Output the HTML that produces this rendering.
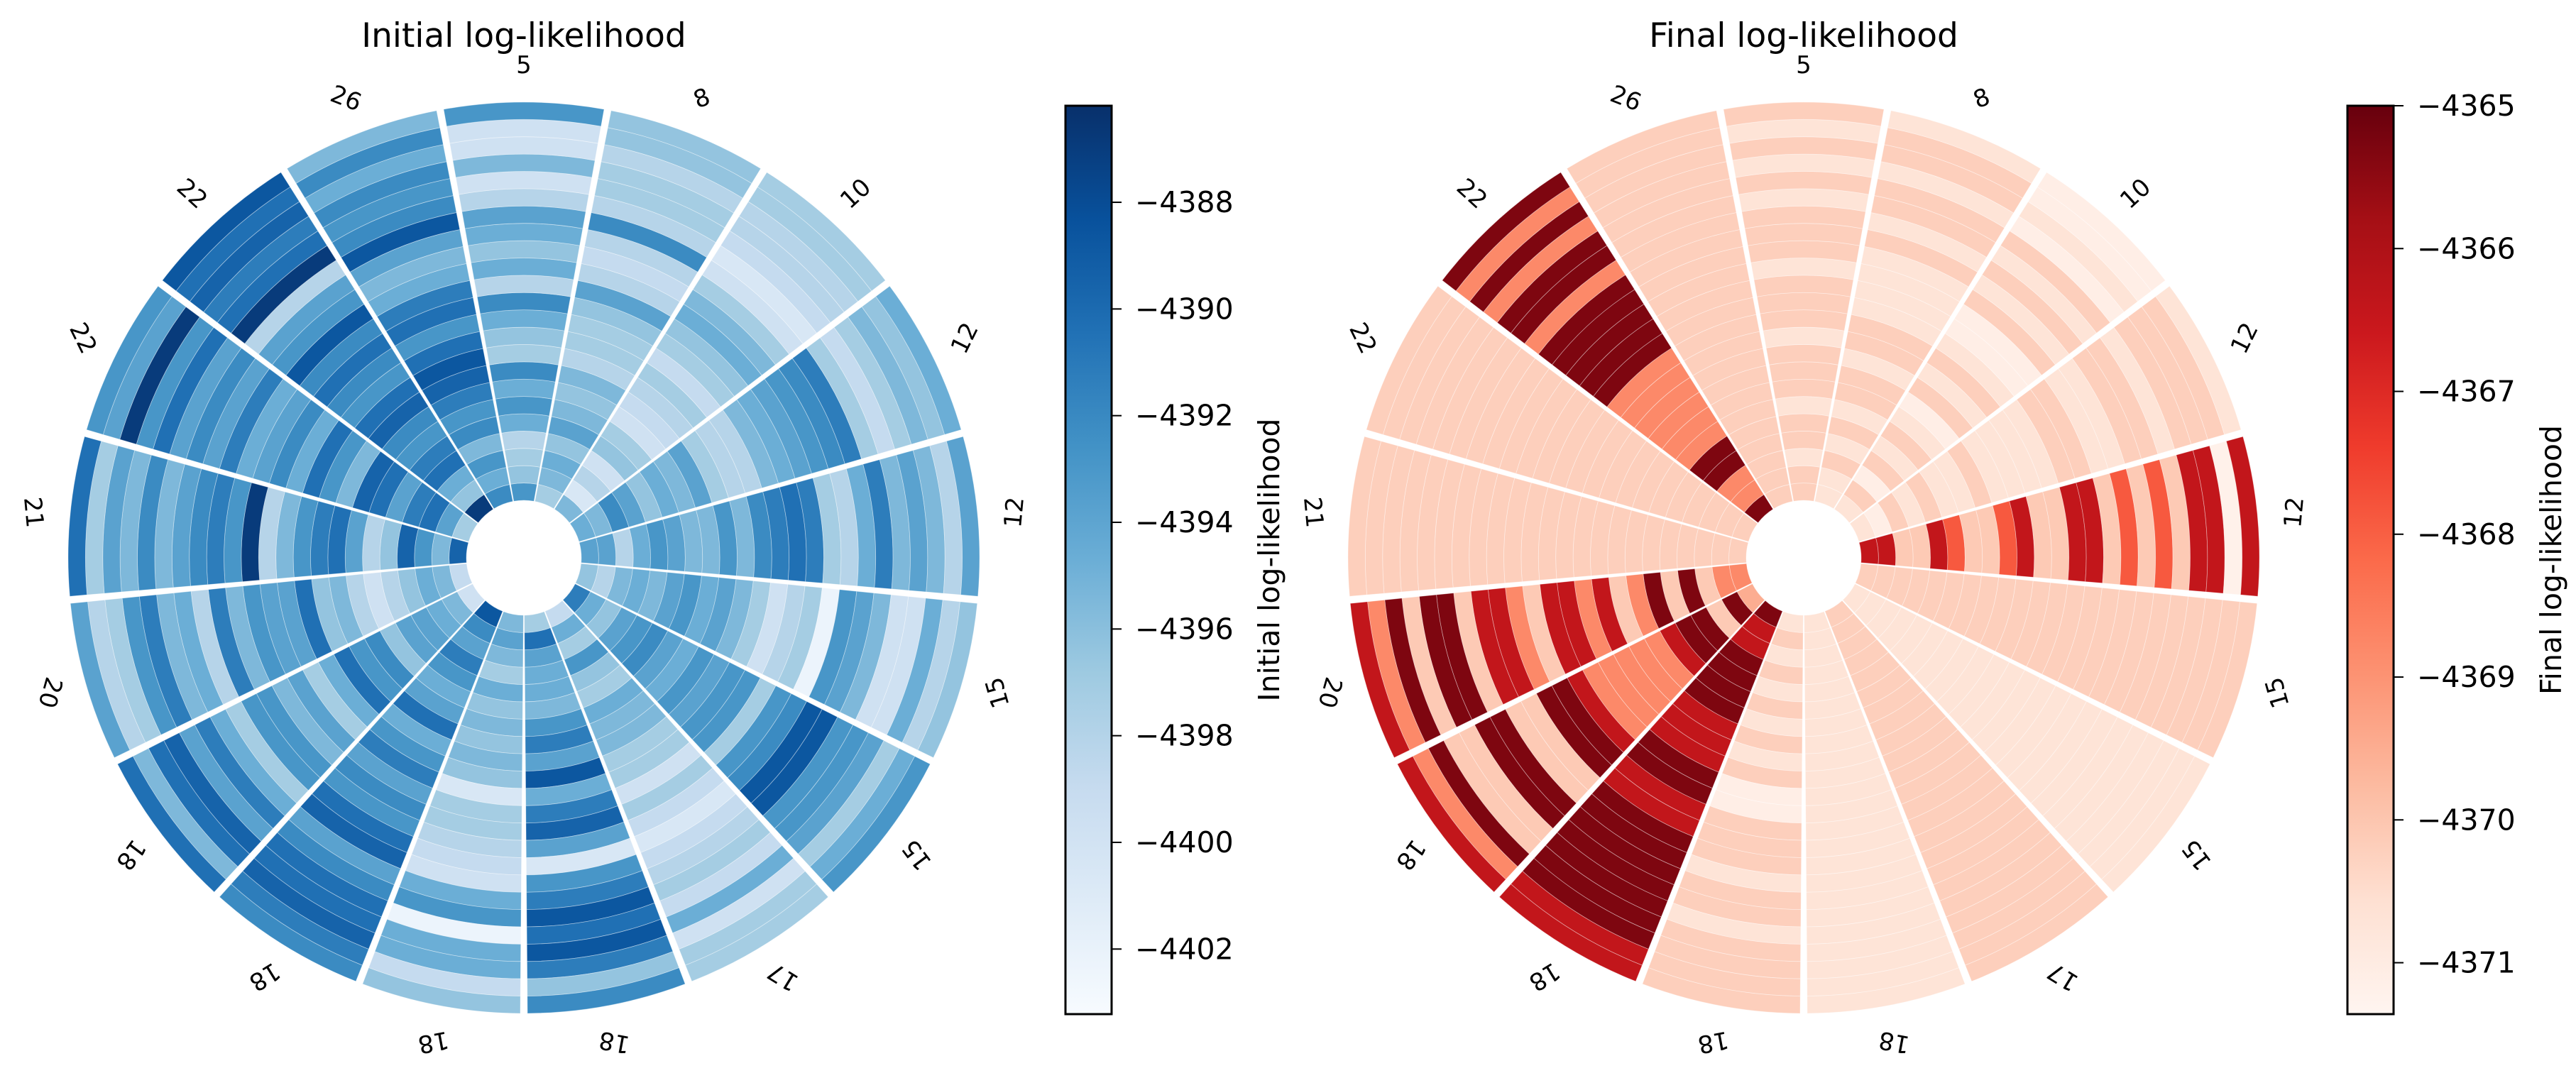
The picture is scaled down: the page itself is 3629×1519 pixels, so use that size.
<!DOCTYPE html>
<html><head><meta charset="utf-8"><style>
html,body{margin:0;padding:0;background:#fff;}
svg{display:block;font-family:"DejaVu Sans","Liberation Sans",sans-serif;}
</style></head><body>
<svg id="fig" width="3629" height="1519" viewBox="0 0 3629 1519" xmlns="http://www.w3.org/2000/svg">
<rect width="3629" height="1519" fill="#fff"/>
<text x="738" y="66" font-size="47" text-anchor="middle">Initial log-likelihood</text>
<text x="2541" y="66" font-size="47" text-anchor="middle">Final log-likelihood</text>
<g id="leftPolar"></g>
<g id="rightPolar"></g>
<g id="leftBar"></g>
<g id="rightBar"></g>
</svg>
<script>
const sectorLabels = ["5","8","10","12","12","15","15","17","18","18","18","18","20","21","22","22","26"];
const initialTicks = [-4388,-4390,-4392,-4394,-4396,-4398,-4400,-4402];
const finalTicks = [-4365,-4366,-4367,-4368,-4369,-4370,-4371];
const initialRange = [-4403.22,-4386.19];
const finalRange = [-4371.36,-4365.0];
const initialLL = [
[-4392.9,-4396.4,-4397.2,-4398.1,-4394.7,-4392.9,-4394.7,-4392.1,-4397.2,-4396.4,-4394.7,-4392.1,-4398.1,-4394.7,-4396.4,-4394.7,-4393.8,-4398.1,-4399.8,-4395.5,-4399.8,-4399.8,-4392.9],
[-4397.2,-4395.5,-4394.7,-4396.4,-4393.8,-4395.5,-4396.4,-4395.5,-4398.1,-4397.2,-4397.2,-4396.4,-4393.8,-4398.1,-4398.9,-4398.1,-4392.1,-4398.1,-4397.2,-4397.2,-4398.1,-4396.4,-4396.4],
[-4395.5,-4400.6,-4398.1,-4399.8,-4396.4,-4397.2,-4399.8,-4398.9,-4398.1,-4397.2,-4398.9,-4397.2,-4396.4,-4394.7,-4395.5,-4397.2,-4399.8,-4400.6,-4398.9,-4398.1,-4398.1,-4397.2,-4397.2],
[-4394.7,-4395.5,-4392.1,-4393.8,-4396.4,-4394.7,-4395.5,-4393.8,-4397.2,-4398.1,-4398.1,-4395.5,-4394.7,-4393.8,-4392.9,-4392.1,-4391.2,-4397.2,-4398.9,-4397.2,-4395.5,-4396.4,-4394.7],
[-4393.8,-4393.8,-4398.1,-4394.7,-4392.9,-4393.8,-4395.5,-4395.5,-4392.9,-4395.5,-4392.1,-4391.2,-4390.4,-4391.2,-4397.2,-4398.1,-4394.7,-4391.2,-4395.5,-4393.8,-4395.5,-4398.1,-4393.8],
[-4396.4,-4398.1,-4395.5,-4394.7,-4395.5,-4393.8,-4392.9,-4394.7,-4393.8,-4395.5,-4397.2,-4399.8,-4398.1,-4397.2,-4402.3,-4392.9,-4393.8,-4395.5,-4399.8,-4399.8,-4394.7,-4398.1,-4396.4],
[-4391.2,-4394.7,-4396.4,-4393.8,-4392.9,-4392.1,-4393.8,-4394.7,-4392.9,-4393.8,-4392.9,-4392.9,-4397.2,-4392.9,-4392.1,-4388.7,-4388.7,-4392.9,-4392.9,-4393.8,-4397.2,-4394.7,-4392.9],
[-4398.9,-4394.7,-4397.2,-4392.9,-4396.4,-4397.2,-4394.7,-4395.5,-4395.5,-4397.2,-4397.2,-4399.8,-4397.2,-4398.9,-4400.6,-4398.9,-4398.1,-4397.2,-4398.9,-4394.7,-4399.8,-4397.2,-4397.2],
[-4397.2,-4390.4,-4393.8,-4394.7,-4394.7,-4395.5,-4392.9,-4391.2,-4393.8,-4388.7,-4394.7,-4391.2,-4389.5,-4393.8,-4400.6,-4392.9,-4391.2,-4388.7,-4390.4,-4388.7,-4391.2,-4396.4,-4392.1],
[-4395.5,-4393.8,-4395.5,-4397.2,-4394.7,-4396.4,-4395.5,-4396.4,-4395.5,-4396.4,-4400.6,-4397.2,-4397.2,-4398.1,-4398.9,-4399.8,-4394.7,-4392.9,-4402.3,-4394.7,-4394.7,-4398.9,-4396.4],
[-4388.7,-4392.1,-4393.8,-4391.2,-4392.9,-4394.7,-4393.8,-4390.4,-4394.7,-4392.9,-4391.2,-4393.8,-4392.1,-4392.9,-4390.4,-4389.5,-4393.8,-4392.1,-4390.4,-4390.4,-4389.5,-4391.2,-4392.1],
[-4399.8,-4395.5,-4394.7,-4393.8,-4393.8,-4396.4,-4392.1,-4392.9,-4390.4,-4394.7,-4397.2,-4393.8,-4395.5,-4392.9,-4392.9,-4397.2,-4394.7,-4391.2,-4393.8,-4389.5,-4390.4,-4395.5,-4390.4],
[-4398.9,-4395.5,-4394.7,-4396.4,-4398.1,-4399.8,-4398.1,-4395.5,-4396.4,-4390.4,-4393.8,-4393.8,-4392.9,-4395.5,-4391.2,-4398.1,-4394.7,-4395.5,-4391.2,-4392.9,-4397.2,-4398.1,-4393.8],
[-4389.5,-4395.5,-4392.9,-4389.5,-4396.4,-4398.1,-4393.8,-4390.4,-4391.2,-4392.9,-4395.5,-4398.1,-4386.9,-4392.9,-4391.2,-4392.1,-4393.8,-4395.5,-4392.1,-4395.5,-4393.8,-4397.2,-4390.4],
[-4397.2,-4393.8,-4390.4,-4391.2,-4393.8,-4390.4,-4389.5,-4395.5,-4392.9,-4390.4,-4394.7,-4392.1,-4393.8,-4394.7,-4391.2,-4393.8,-4392.1,-4393.8,-4390.4,-4392.9,-4386.9,-4393.8,-4392.9],
[-4386.9,-4396.4,-4394.7,-4390.4,-4391.2,-4392.9,-4392.1,-4389.5,-4390.4,-4392.9,-4392.1,-4390.4,-4392.1,-4388.7,-4392.9,-4393.8,-4398.1,-4386.9,-4390.4,-4391.2,-4389.5,-4390.4,-4388.7],
[-4392.1,-4394.7,-4392.9,-4395.5,-4392.1,-4392.9,-4391.2,-4389.5,-4388.7,-4390.4,-4392.9,-4390.4,-4391.2,-4394.7,-4395.5,-4393.8,-4388.7,-4392.1,-4392.9,-4392.1,-4394.7,-4392.1,-4395.5]
];
const finalLL = [
[-4370.2,-4370.2,-4370.7,-4370.2,-4370.2,-4370.7,-4370.2,-4370.2,-4370.2,-4370.7,-4370.2,-4370.2,-4370.2,-4370.7,-4370.2,-4370.2,-4370.2,-4370.7,-4370.2,-4370.7,-4370.2,-4370.7,-4370.2],
[-4370.7,-4370.7,-4370.2,-4370.7,-4370.2,-4370.7,-4370.2,-4370.2,-4370.7,-4370.2,-4370.2,-4370.7,-4370.7,-4370.7,-4370.7,-4370.2,-4370.7,-4370.2,-4370.2,-4370.7,-4370.2,-4370.2,-4370.7],
[-4370.7,-4370.2,-4371.1,-4370.2,-4370.7,-4370.2,-4370.7,-4371.1,-4370.2,-4370.7,-4370.2,-4370.7,-4371.1,-4371.1,-4370.2,-4370.7,-4370.2,-4370.7,-4370.2,-4371.1,-4370.7,-4371.1,-4371.1],
[-4370.7,-4371.1,-4370.2,-4370.7,-4370.2,-4370.7,-4370.7,-4370.2,-4370.7,-4370.7,-4370.7,-4370.7,-4370.2,-4370.2,-4370.7,-4370.7,-4370.2,-4370.2,-4370.7,-4370.2,-4370.2,-4370.2,-4370.7],
[-4366.4,-4366.4,-4370.1,-4370.1,-4366.4,-4367.9,-4370.1,-4370.1,-4367.9,-4366.4,-4370.1,-4370.1,-4366.4,-4366.4,-4370.1,-4367.9,-4370.1,-4367.9,-4370.1,-4366.4,-4366.4,-4371.2,-4366.4],
[-4370.2,-4370.2,-4370.2,-4370.2,-4370.2,-4370.2,-4370.2,-4370.2,-4370.2,-4370.2,-4370.2,-4370.2,-4370.2,-4370.2,-4370.2,-4370.2,-4370.2,-4370.2,-4370.2,-4370.2,-4370.2,-4370.2,-4370.2],
[-4370.7,-4370.7,-4370.7,-4370.7,-4370.7,-4370.7,-4370.7,-4370.7,-4370.7,-4370.7,-4370.7,-4370.7,-4370.7,-4370.7,-4370.7,-4370.7,-4370.7,-4370.7,-4370.7,-4370.7,-4370.7,-4370.7,-4370.7],
[-4370.2,-4370.2,-4370.2,-4370.2,-4370.2,-4370.2,-4370.2,-4370.2,-4370.2,-4370.2,-4370.2,-4370.2,-4370.2,-4370.2,-4370.2,-4370.2,-4370.2,-4370.2,-4370.2,-4370.2,-4370.2,-4370.2,-4370.2],
[-4370.7,-4370.7,-4370.7,-4370.7,-4370.7,-4370.7,-4370.7,-4370.7,-4370.7,-4370.7,-4370.7,-4370.7,-4370.7,-4370.7,-4370.7,-4370.7,-4370.7,-4370.7,-4370.7,-4370.7,-4370.7,-4370.7,-4370.7],
[-4370.7,-4370.2,-4370.7,-4370.2,-4370.7,-4370.2,-4370.7,-4370.2,-4370.7,-4370.2,-4371.1,-4371.1,-4370.2,-4370.2,-4370.2,-4370.7,-4370.2,-4370.2,-4370.7,-4370.2,-4370.2,-4370.2,-4370.2],
[-4365.3,-4366.4,-4366.4,-4365.3,-4365.3,-4365.3,-4365.3,-4366.4,-4366.4,-4366.4,-4365.3,-4365.3,-4366.4,-4366.4,-4365.3,-4365.3,-4365.3,-4365.3,-4365.3,-4365.3,-4365.3,-4366.4,-4366.4],
[-4369.5,-4365.3,-4370.1,-4365.3,-4365.3,-4366.4,-4368.8,-4368.8,-4368.8,-4368.8,-4368.8,-4366.4,-4365.3,-4365.3,-4370.1,-4370.1,-4365.3,-4365.3,-4370.1,-4370.1,-4365.3,-4368.8,-4366.4],
[-4368.8,-4368.8,-4370.1,-4365.3,-4370.1,-4365.3,-4368.8,-4370.1,-4366.4,-4368.8,-4366.4,-4366.4,-4370.1,-4368.8,-4366.4,-4366.4,-4370.1,-4365.3,-4365.3,-4370.1,-4365.3,-4368.8,-4366.4],
[-4370.2,-4370.2,-4370.2,-4370.2,-4370.2,-4370.2,-4370.2,-4370.2,-4370.2,-4370.2,-4370.2,-4370.2,-4370.2,-4370.2,-4370.2,-4370.2,-4370.2,-4370.2,-4370.2,-4370.2,-4370.2,-4370.2,-4370.2],
[-4370.2,-4370.2,-4370.2,-4370.2,-4370.2,-4370.2,-4370.2,-4370.2,-4370.2,-4370.2,-4370.2,-4370.2,-4370.2,-4370.2,-4370.2,-4370.2,-4370.2,-4370.2,-4370.2,-4370.2,-4370.2,-4370.2,-4370.2],
[-4365.3,-4368.8,-4368.8,-4365.3,-4365.3,-4368.8,-4368.8,-4368.8,-4368.8,-4368.8,-4368.8,-4365.3,-4365.3,-4365.3,-4365.3,-4365.3,-4368.8,-4365.3,-4365.3,-4368.8,-4365.3,-4368.8,-4365.3],
[-4370.2,-4370.2,-4370.2,-4370.2,-4370.2,-4370.2,-4370.2,-4370.2,-4370.2,-4370.2,-4370.2,-4370.2,-4370.2,-4370.2,-4370.2,-4370.2,-4370.2,-4370.2,-4370.2,-4370.2,-4370.2,-4370.2,-4370.2]
];

const BLUES = ["#f7fbff","#deebf7","#c6dbef","#9ecae1","#6baed6","#4292c6","#2171b5","#08519c","#08306b"];
const REDS = ["#fff5f0","#fee0d2","#fcbba1","#fc9272","#fb6a4a","#ef3b2c","#cb181d","#a50f15","#67000d"];
const NS = "http://www.w3.org/2000/svg";

function hex(c){return [parseInt(c.substr(1,2),16),parseInt(c.substr(3,2),16),parseInt(c.substr(5,2),16)];}
function cmap(stops,t){
  t=Math.max(0,Math.min(1,t));
  const p=t*(stops.length-1), i=Math.min(stops.length-2,Math.floor(p)), f=p-i;
  const a=hex(stops[i]), b=hex(stops[i+1]);
  return "rgb("+a.map((v,k)=>Math.round(v+(b[k]-v)*f)).join(",")+")";
}
function mk(tag,attrs,parent){const e=document.createElementNS(NS,tag);for(const k in attrs)e.setAttribute(k,attrs[k]);parent.appendChild(e);return e;}

function pt(cx,cy,r,deg){const a=deg*Math.PI/180;return [cx+r*Math.sin(a),cy-r*Math.cos(a)];}

function drawPolar(g,cx,cy,values,stops,range,prefix){
  const n=sectorLabels.length, step=360/n, gap=0.9;
  const r0=81, R=642, nr=values[0].length, w=(R-r0)/nr;
  values.forEach((ring,i)=>{
    const a0=i*step-step/2+gap/2, a1=i*step+step/2-gap/2;
    ring.forEach((v,j)=>{
      const ri=r0+j*w, ro=ri+w;
      const p1=pt(cx,cy,ri,a0),p2=pt(cx,cy,ro,a0),p3=pt(cx,cy,ro,a1),p4=pt(cx,cy,ri,a1);
      const d="M"+p1+"L"+p2+"A"+ro+","+ro+" 0 0 1 "+p3+"L"+p4+"A"+ri+","+ri+" 0 0 0 "+p1+"Z";
      const t=(v-range[0])/(range[1]-range[0]);
      const el=mk("path",{d:d,fill:cmap(stops,t),stroke:"#fff","stroke-width":"0.8","stroke-opacity":"0.45"},g);
      
      
    });
    const lp=pt(cx,cy,694,i*step);
    const rot=-i*step;
    const tx=mk("text",{x:lp[0],y:lp[1],"font-size":"34","text-anchor":"middle","dominant-baseline":"central",transform:"rotate("+rot+" "+lp[0]+" "+lp[1]+")"},g);
    tx.textContent=sectorLabels[i];
    
    
  });
}

function drawBar(g,x,y0,y1,stops,range,ticks,label,id,prefix){
  const defs=mk("defs",{},g);
  const lg=mk("linearGradient",{id:id,x1:"0",y1:"1",x2:"0",y2:"0"},defs);
  stops.forEach((c,i)=>mk("stop",{offset:i/(stops.length-1),"stop-color":c},lg));
  const bw=65;
  const rect=mk("rect",{x:x,y:y0,width:bw,height:y1-y0,fill:"url(#"+id+")",stroke:"#000","stroke-width":"3"},g);
  
  
  ticks.forEach(v=>{
    const y=y0+(range[1]-v)/(range[1]-range[0])*(y1-y0);
    const tk=mk("line",{x1:x+bw,x2:x+bw+14,y1:y,y2:y,stroke:"#000","stroke-width":"2"},g);
    
    
    const t=mk("text",{x:x+bw+33,y:y,"font-size":"41","dominant-baseline":"central"},g);
    t.textContent="\u2212"+Math.abs(v);
    
    
  });
  const lx=x+bw+222, ly=(y0+y1)/2;
  const lt=mk("text",{x:lx,y:ly,"font-size":"41","text-anchor":"middle","dominant-baseline":"central",transform:"rotate(-90 "+lx+" "+ly+")"},g);
  lt.textContent=label;
  
  
}

drawPolar(document.getElementById("leftPolar"),738,786,initialLL,BLUES,initialRange,"initial");
drawPolar(document.getElementById("rightPolar"),2541,786,finalLL,REDS,finalRange,"final");
drawBar(document.getElementById("leftBar"),1501,149,1429,BLUES,initialRange,initialTicks,"Initial log-likelihood","gradBlue","initial");
drawBar(document.getElementById("rightBar"),3307,149,1429,REDS,finalRange,finalTicks,"Final log-likelihood","gradRed","final");
</script>
</body></html>
